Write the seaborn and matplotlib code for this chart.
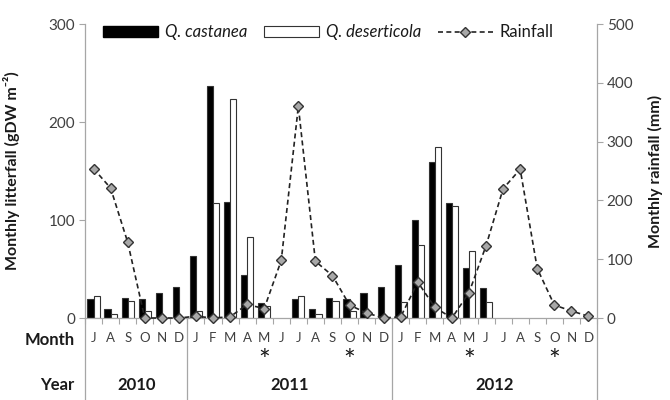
import numpy as np
import pandas as pd
import matplotlib
matplotlib.use("Agg")
import matplotlib.pyplot as plt
import matplotlib.transforms as mtransforms
from matplotlib.patches import Patch
from matplotlib.lines import Line2D
import seaborn as sns

# Monthly series, July 2010 to December 2012
month_labels = ['J', 'A', 'S', 'O', 'N', 'D'] + list('JFMAMJJASOND') * 2
year_labels = ['2010', '2011', '2012']
year_lengths = [6, 12, 12]

nan = np.nan
castanea = [19, 9, 20, 19, 25.5, 32,
            63, 236.5, 118, 43.5, 15, nan, 19, 9, 20, 19, 25.5, 32,
            54.5, 100, 159, 117, 51, 31, nan, nan, nan, nan, nan, nan]
deserticola = [22, 4.5, 17, 7, 0, 0,
               7, 117, 223, 83, 12, nan, 22, 4.5, 17, 7, 0, 0,
               16, 74, 174, 114, 68, 16, nan, nan, nan, nan, nan, nan]
rainfall = [254, 221, 129, 0, 0, 0,
            3, 0, 2, 23, 16, 98, 360, 96.5, 72, 22, 8.5, 0,
            2, 61, 18, 0, 43, 123, 220, 253, 84, 22, 12, 3]
# months flagged with an asterisk (index into the series)
flagged = [10, 15, 22, 27]

species_names = ['Q. castanea', 'Q. deserticola']

sns.set_theme(style="white")
plt.rcParams['font.family'] = ['Lato', 'DejaVu Sans']

n = len(month_labels)
keys = [f"m{i:02d}" for i in range(n)]
df = pd.DataFrame({
    'month': keys * 2,
    'value': castanea + deserticola,
    'species': [species_names[0]] * n + [species_names[1]] * n,
})

fig = plt.figure(figsize=(6.7, 4.0), dpi=100)
ax = fig.add_axes([85 / 670, 1 - 318 / 400, (597 - 85) / 670, (318 - 24) / 400])

sns.barplot(data=df, x='month', y='value', hue='species', order=keys,
            hue_order=species_names, palette=['black', 'white'],
            edgecolor='#333333', linewidth=0.8, width=0.72, ax=ax,
            legend=False, errorbar=None)

grey = '#a6a6a6'
txt = '#404040'
dark = '#1a1a1a'
ax.set_xlim(-0.5, n - 0.5)
ax.set_ylim(0, 300)
ax.set_yticks([0, 100, 200, 300])
ax.set_xlabel('')
ax.set_ylabel('Monthly litterfall (gDW m⁻²)', fontsize=11.5,
              fontweight='bold', color=dark)
ax.yaxis.set_label_coords(-0.127, 0.5)
ax.set_xticks(range(n))
ax.set_xticklabels([])
ax.set_xticks(np.arange(-0.5, n, 1), minor=True)
ax.tick_params(axis='x', which='major', length=0)
ax.tick_params(axis='x', which='minor', length=4, color=grey, width=0.8,
               direction='out', bottom=True)
ax.tick_params(axis='y', length=4, color=grey, width=0.8, direction='out',
               labelsize=11, labelcolor=txt, left=True, pad=3)
for s in ['top', 'right']:
    ax.spines[s].set_visible(False)
for s in ['left', 'bottom']:
    ax.spines[s].set_color(grey)
    ax.spines[s].set_linewidth(0.9)

ax2 = ax.twinx()
x_pos = np.arange(n)
sns.lineplot(x=x_pos, y=rainfall, ax=ax2, color='#222222', linewidth=1.2,
             marker='D', markersize=5.5, markerfacecolor='#a8a8a8',
             markeredgecolor='#333333', markeredgewidth=1.0, clip_on=False,
             zorder=5)
for ln in ax2.lines:
    ln.set_dashes((3, 2))
ax2.set_ylim(0, 500)
ax2.set_yticks([0, 100, 200, 300, 400, 500])
ax2.set_ylabel('Monthly rainfall (mm)', fontsize=11.5, fontweight='bold',
               color=dark)
ax2.yaxis.set_label_coords(1.1, 0.5)
ax2.tick_params(axis='y', length=4, color=grey, width=0.8, direction='out',
                labelsize=11, labelcolor=txt, right=True, pad=3)
for s in ['top', 'left', 'bottom']:
    ax2.spines[s].set_visible(False)
ax2.spines['right'].set_color(grey)
ax2.spines['right'].set_linewidth(0.9)
ax2.set_xlim(-0.5, n - 0.5)

# month / year table under the axis
trans = mtransforms.blended_transform_factory(ax.transData, ax.transAxes)
for i, lab in enumerate(month_labels):
    ax.text(i, -0.068, lab, transform=trans, ha='center', va='center',
            fontsize=9.5, color=txt)
for i in flagged:
    ax.text(i, -0.15, '*', transform=trans, ha='center', va='center',
            fontsize=20, color=dark)

start = 0
bounds = [-0.5]
for ylab, ln in zip(year_labels, year_lengths):
    ax.text(start + (ln - 1) / 2, -0.228, ylab, transform=trans, ha='center',
            va='center', fontsize=12, fontweight='bold', color=dark)
    start += ln
    bounds.append(start - 0.5)
for b in bounds:
    ax.plot([b, b], [0, -0.28], transform=trans, color=grey, lw=0.9,
            clip_on=False)

ax.text(-0.02, -0.075, 'Month', transform=ax.transAxes, ha='right',
        va='center', fontsize=12, fontweight='bold', color=dark)
ax.text(-0.02, -0.228, 'Year', transform=ax.transAxes, ha='right',
        va='center', fontsize=12, fontweight='bold', color=dark)

handles = [
    Patch(facecolor='black', edgecolor='black'),
    Patch(facecolor='white', edgecolor='#333333', linewidth=0.8),
    Line2D([], [], color='#222222', lw=1.2, dashes=(3, 2), marker='D',
           markersize=5.5, markerfacecolor='#a8a8a8', markeredgecolor='#333333'),
]
leg = ax.legend(handles, species_names + ['Rainfall'], loc='center',
                bbox_to_anchor=(0.475, 0.972), ncol=3, frameon=False,
                fontsize=12, handlelength=3.3, handleheight=0.65,
                columnspacing=1.0, handletextpad=0.4)
for t in leg.get_texts():
    t.set_color(dark)
leg.get_texts()[0].set_style('italic')
leg.get_texts()[1].set_style('italic')
leg.set_zorder(10)

fig.savefig('out.png', dpi=100)
